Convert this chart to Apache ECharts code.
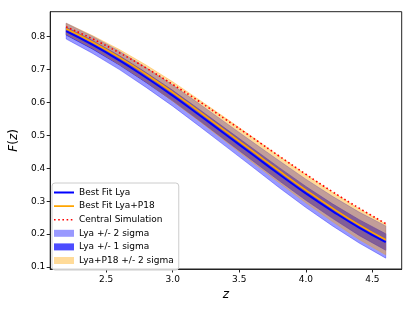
<!DOCTYPE html>
<html>
<head>
<meta charset="utf-8">
<script src="https://cdn.jsdelivr.net/npm/echarts@6/dist/echarts.min.js"></script>
<style>html,body{margin:0;padding:0;background:#fff}#c{width:413px;height:310px}</style>
</head>
<body>
<div id="c"></div>
<script>
// redshift grid
const zs = [2.2, 2.4, 2.6, 2.8, 3.0, 3.2, 3.4, 3.6, 3.8, 4.0, 4.2, 4.4, 4.6];
// Best Fit Lya
const bestLya = [0.817, 0.775, 0.728, 0.676, 0.621, 0.562, 0.502, 0.442, 0.382, 0.324, 0.270, 0.220, 0.176];
// Best Fit Lya+P18
const bestLyaP18 = [0.824, 0.783, 0.737, 0.686, 0.631, 0.572, 0.512, 0.452, 0.392, 0.334, 0.279, 0.228, 0.183];
// Central Simulation
const centralSim = [0.830, 0.793, 0.751, 0.705, 0.655, 0.603, 0.548, 0.493, 0.437, 0.382, 0.329, 0.279, 0.232];
// Lya +/- 2 sigma
const lya2Lo = [0.793, 0.749, 0.700, 0.646, 0.589, 0.528, 0.466, 0.404, 0.341, 0.281, 0.225, 0.173, 0.127];
const lya2Hi = [0.841, 0.801, 0.756, 0.706, 0.653, 0.596, 0.538, 0.480, 0.423, 0.367, 0.315, 0.267, 0.225];
// Lya +/- 1 sigma
const lya1Lo = [0.805, 0.762, 0.714, 0.661, 0.605, 0.545, 0.484, 0.423, 0.362, 0.303, 0.248, 0.196, 0.151];
const lya1Hi = [0.829, 0.788, 0.742, 0.691, 0.637, 0.579, 0.520, 0.461, 0.402, 0.345, 0.292, 0.244, 0.201];
// Lya+P18 +/- 2 sigma
const p18Lo = [0.807, 0.764, 0.715, 0.662, 0.604, 0.543, 0.481, 0.418, 0.356, 0.295, 0.238, 0.184, 0.137];
const p18Hi = [0.841, 0.803, 0.761, 0.714, 0.663, 0.608, 0.552, 0.495, 0.437, 0.381, 0.327, 0.277, 0.231];
// tick labels
const xTicks = [2.5, 3.0, 3.5, 4.0, 4.5];
const yTicks = [0.1, 0.2, 0.3, 0.4, 0.5, 0.6, 0.7, 0.8];

const FONT = 'DejaVu Sans';
const pairs = (ys) => zs.map((z, i) => [z, ys[i]]);

function bandSeries(name, lo, hi, color) {
  return {
    type: 'custom',
    name: name,
    itemStyle: { color: color },
    data: [[zs[0], lo[0]]],
    clip: true,
    renderItem: function (params, api) {
      if (params.dataIndex !== 0) return null;
      const pts = [];
      for (let i = 0; i < zs.length; i++) pts.push(api.coord([zs[i], hi[i]]));
      for (let i = zs.length - 1; i >= 0; i--) pts.push(api.coord([zs[i], lo[i]]));
      return {
        type: 'polygon',
        shape: { points: pts, smooth: 0 },
        style: { fill: color, stroke: color, lineWidth: 0.8 }
      };
    }
  };
}

const C2 = 'rgba(0,0,255,0.4)';
const C1 = 'rgba(0,0,255,0.7)';
const CO = 'rgba(255,165,0,0.4)';

// legend icons (line-shaped paths inside a 20 x 7 box)
let dots = '';
for (let x = 0; x < 20; x += 4.2) dots += 'M' + x + ',2.7h1.6v1.6h-1.6Z';
const dottedIcon = 'path://M0,0h0.01v0.01h-0.01Z M19.99,6.99h0.01v0.01h-0.01Z ' + dots;
const boxIcon = (h) => 'path://M0,0h0.01v0.01h-0.01Z M19.99,6.99h0.01v0.01h-0.01Z M0,' + (3.5 - h / 2) + 'H20V' + (3.5 + h / 2) + 'H0Z';

const chart = echarts.init(document.getElementById('c'), null, { renderer: 'canvas' });
chart.setOption({
  animation: false,
  backgroundColor: '#fff',
  grid: { left: 46.7, right: 11.3, top: 11.7, bottom: 41, show: true, borderColor: '#222', borderWidth: 1, backgroundColor: 'transparent' },
  xAxis: {
    type: 'value', min: 2.08, max: 4.72,
    axisLine: { show: true, lineStyle: { color: '#222', width: 1 } },
    axisTick: { show: true, inside: false, length: 3.5, lineStyle: { color: '#222' }, customValues: xTicks },
    axisLabel: { show: true, customValues: xTicks, formatter: v => v.toFixed(1), fontFamily: FONT, fontSize: 9, color: '#000', margin: 6 },
    splitLine: { show: false },
    name: 'z', nameLocation: 'middle', nameGap: 18,
    nameTextStyle: { fontFamily: FONT, fontStyle: 'italic', fontSize: 12, color: '#000' }
  },
  yAxis: {
    type: 'value', min: 0.094, max: 0.876,
    axisLine: { show: true, lineStyle: { color: '#222', width: 1 } },
    axisTick: { show: true, inside: false, length: 3.5, lineStyle: { color: '#222' }, customValues: yTicks },
    axisLabel: { show: true, customValues: yTicks, formatter: v => v.toFixed(1), fontFamily: FONT, fontSize: 9, color: '#000', margin: 5 },
    splitLine: { show: false },
    name: '{i|F}({i|z})', nameLocation: 'middle', nameGap: 21, nameRotate: 90,
    nameTextStyle: { fontFamily: FONT, fontSize: 12, color: '#000', rich: { i: { fontFamily: FONT, fontStyle: 'italic', fontSize: 12, color: '#000' } } }
  },
  legend: {
    orient: 'vertical', left: 52, top: 183,
    padding: [4, 5, 4, 2],
    itemWidth: 20, itemHeight: 7, itemGap: 2.6,
    symbolKeepAspect: true,
    backgroundColor: 'rgba(255,255,255,0.8)', borderColor: '#ccc', borderWidth: 1, borderRadius: 3,
    textStyle: { fontFamily: FONT, fontSize: 9, color: '#000', lineHeight: 11 },
    data: [
      { name: 'Best Fit Lya', icon: boxIcon(2), itemStyle: { color: '#0000ff' } },
      { name: 'Best Fit Lya+P18', icon: boxIcon(1.6), itemStyle: { color: '#ffa500' } },
      { name: 'Central Simulation', icon: dottedIcon, itemStyle: { color: '#ff0000' } },
      { name: 'Lya +/- 2 sigma', icon: 'rect', itemStyle: { color: C2 } },
      { name: 'Lya +/- 1 sigma', icon: 'rect', itemStyle: { color: C1 } },
      { name: 'Lya+P18 +/- 2 sigma', icon: 'rect', itemStyle: { color: CO } }
    ]
  },
  series: [
    bandSeries('Lya +/- 2 sigma', lya2Lo, lya2Hi, C2),
    bandSeries('Lya +/- 1 sigma', lya1Lo, lya1Hi, C1),
    bandSeries('Lya+P18 +/- 2 sigma', p18Lo, p18Hi, CO),
    { type: 'line', name: 'Best Fit Lya', data: pairs(bestLya), showSymbol: false, symbol: 'none', smooth: true, z: 5,
      lineStyle: { color: '#0000ff', width: 2 }, itemStyle: { color: '#0000ff' } },
    { type: 'line', name: 'Best Fit Lya+P18', data: pairs(bestLyaP18), showSymbol: false, symbol: 'none', smooth: true, z: 5,
      lineStyle: { color: '#ffa500', width: 1.6 }, itemStyle: { color: '#ffa500' } },
    { type: 'line', name: 'Central Simulation', data: pairs(centralSim), showSymbol: false, symbol: 'none', smooth: true, z: 5,
      lineStyle: { color: '#ff0000', width: 1.6, type: [1.6, 2.6] }, itemStyle: { color: '#ff0000' } }
  ]
});
</script>
</body>
</html>
